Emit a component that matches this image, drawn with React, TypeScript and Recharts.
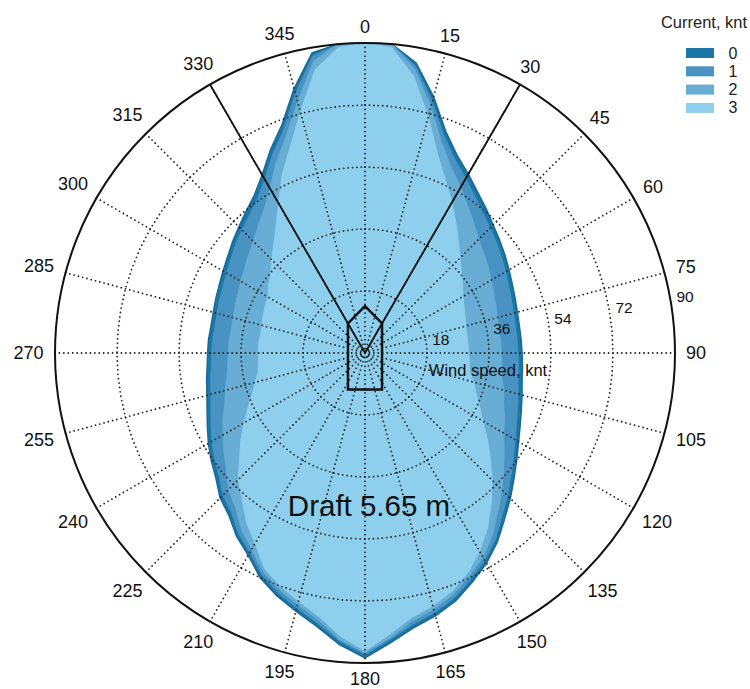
import { RadarChart, Radar, PolarAngleAxis, PolarRadiusAxis } from 'recharts'

// wind direction (deg, clockwise from bow) for every sample of the envelopes
const ANGLES = [
  0, 5, 10, 15, 20, 25, 30, 35, 40, 45, 50, 55, 60, 65, 70, 75, 80, 85,
  90, 95, 100, 105, 110, 115, 120, 125, 130, 135, 140, 145, 150, 155, 160, 165, 170, 175,
  180, 185, 190, 195, 200, 205, 210, 215, 220, 225, 230, 235, 240, 245, 250, 255, 260, 265,
  270, 275, 280, 285, 290, 295, 300, 305, 310, 315, 320, 325, 330, 335, 340, 345, 350, 355,
]

// max wind speed (knt) the vessel holds, per current speed
const CURRENT_0 = [
  90, 90, 85.5, 77, 68.5, 63.3, 60, 57, 54.7, 52.6,
  51, 49.6, 48.3, 47.2, 46.4, 45.8, 45.5, 45.5, 45.6, 45.9,
  46.3, 47.2, 48.3, 49.7, 51.5, 53.8, 56.5, 59.7, 63, 67,
  70.5, 73.5, 76.7, 79, 81, 84.5, 88.5, 85, 80.6, 77.6,
  75, 72, 67.8, 65, 61.5, 59.5, 56.5, 54.5, 52.5, 50.5,
  48.8, 47.5, 46.7, 46, 45.7, 45.6, 45.4, 45.6, 46.1, 46.7,
  47.6, 48.7, 50.2, 51.8, 53.7, 56, 59.7, 65, 70.5, 79.5,
  88.5, 90,
]
const CURRENT_1 = [
  90, 90, 84.5, 75.5, 67, 61.8, 58.5, 55.5, 53.2, 51.3,
  49.8, 48.4, 47.1, 46, 45.2, 44.6, 44.3, 44.3, 44.4, 44.7,
  45.1, 46, 47.1, 48.5, 50.3, 52.6, 55.3, 58.5, 61.8, 66,
  69.5, 72.5, 75.7, 78, 80, 83.5, 87.5, 84, 79.6, 76.6,
  74, 71, 66.8, 64, 60.3, 58.3, 55.3, 53.3, 51.3, 49.3,
  47.6, 46.3, 45.5, 44.8, 44.5, 44.4, 44.2, 44.4, 44.9, 45.5,
  46.4, 47.5, 49, 50.5, 52.2, 54.5, 58.2, 63.5, 69, 78,
  87.5, 90,
]
const CURRENT_2 = [
  90, 90, 83.5, 74, 65, 59.3, 55.5, 52, 49.2, 46.6,
  45, 43.6, 42.3, 41.2, 40.4, 39.8, 39.5, 39.5, 39.6, 39.9,
  40.3, 41.7, 42.8, 44.7, 46.5, 49.3, 52.5, 56.2, 60, 64.5,
  68.5, 71.5, 74.7, 77, 79, 83, 87, 83.5, 78.6, 75.6,
  73, 70, 65.8, 62.5, 58.5, 56, 52.5, 50, 47.5, 45.5,
  43.3, 42, 40.7, 40, 39.7, 39.6, 39.4, 39.6, 40.1, 40.7,
  41.6, 42.7, 44.2, 45.8, 48.2, 51, 55.2, 61, 67, 75.5,
  86, 90,
]
const CURRENT_3 = [
  90, 89, 81.5, 71, 61.5, 55.3, 50.5, 46, 42.2, 39.1,
  36.5, 34.6, 32.8, 31.7, 30.9, 30.3, 30, 30, 30.1, 30.4,
  30.8, 32.7, 34.3, 36.7, 39.5, 43.3, 47.5, 52.2, 57, 62,
  66.5, 70.5, 73.7, 76, 78, 82, 86.5, 82.5, 77.6, 74.6,
  72, 69, 63.8, 60, 55.5, 52, 47.5, 44, 40.5, 37.5,
  34.8, 33, 31.5, 31, 31, 31, 30.8, 31, 31.5, 32,
  32.5, 34.2, 35.7, 38.3, 41.2, 45, 50.2, 57, 63.5, 72.5,
  83.5, 89,
]

const CURRENT_LEVELS = ['0', '1', '2', '3']
const CURRENT_SERIES = [CURRENT_0, CURRENT_1, CURRENT_2, CURRENT_3]
const CURRENT_COLORS = ['#1b78a6', '#4893c2', '#68add4', '#8dcfec']

const ANGLE_TICKS = [0, 15, 30, 45, 60, 75, 90, 105, 120, 135, 150, 165, 180, 195, 210, 225, 240, 255, 270, 285, 300, 315, 330, 345]
const RADIUS_TICKS = [0, 18, 36, 54, 72, 90]
const RADIUS_MAX = 90

// sector limits drawn from the centre out to the rim
const SECTOR_LINES = [30, 330]
// vessel outline: [direction deg, radius knt]
const SHIP_OUTLINE: [number, number][] = [[0, 13.6], [30, 9.9], [155, 11.7], [205, 11.7], [330, 9.9]]

const CX = 365
const CY = 353
const OUTER_R = 310
const RADIUS_AXIS_ANGLE = 10
const DOT_GAP = OUTER_R / 70
const FONT = '"Liberation Sans", Arial, Helvetica, sans-serif'

const RINGS = RADIUS_TICKS.filter(t => t > 0 && t < RADIUS_MAX)

const data = ANGLES.map((angle, i) => {
  const row: Record<string, number | null> = { angle }
  CURRENT_LEVELS.forEach((lvl, k) => { row['c' + lvl] = CURRENT_SERIES[k][i] })
  RINGS.forEach(t => { row['ring' + t] = t })
  row.spokes = ANGLE_TICKS.includes(angle) ? RADIUS_MAX : 0
  row.sector = SECTOR_LINES.includes(angle) ? RADIUS_MAX : 0
  const ship = SHIP_OUTLINE.find(p => p[0] === angle)
  row.ship = ship ? ship[1] : null
  return row
})

function ShipShape(props: any) {
  const pts = (props.points || []).filter((p: any) => p.payload && p.payload.ship != null)
  return (
    <polygon points={pts.map((p: any) => `${p.x},${p.y}`).join(' ')}
      fill="none" stroke="#111" strokeWidth={2.5} strokeLinejoin="miter" />
  )
}

function AngleTick({ payload }: any) {
  const v = Number(payload?.value)
  if (!ANGLE_TICKS.includes(v)) return null
  const label = String(v)
  const rad = (v * Math.PI) / 180
  const sx = Math.sin(rad)
  const sy = -Math.cos(rad)
  const w = label.length * 10
  const r = 320 + Math.abs(sx) * w * 0.55 + Math.abs(sy) * 6
  return (
    <text x={CX + r * sx} y={CY + r * sy} textAnchor="middle" dominantBaseline="central"
      fontSize={18} fill="#111" fontFamily={FONT}>
      {label}
    </text>
  )
}

function RadiusTick({ x, y, payload }: any) {
  if (!payload?.value) return null
  const a = (RADIUS_AXIS_ANGLE * Math.PI) / 180
  return (
    <text x={x + 15 * Math.cos(a)} y={y - 15 * Math.sin(a)} textAnchor="middle" dominantBaseline="central"
      fontSize={15.5} fill="#111" fontFamily={FONT}>
      {payload.value}
    </text>
  )
}

const dotted = {
  fill: 'none',
  stroke: '#222',
  strokeWidth: 1.8,
  strokeLinecap: 'round' as const,
  strokeDasharray: `0 ${DOT_GAP}`,
}

export default function App() {
  return (
    <div style={{ position: 'absolute', left: 0, top: 0, width: 750, height: 689, fontFamily: FONT, background: '#fff' }}>
      <RadarChart width={750} height={689} data={data} cx={CX} cy={CY} outerRadius={OUTER_R} startAngle={90} endAngle={-270}>
        {CURRENT_LEVELS.map((lvl, k) => (
          <Radar key={lvl} dataKey={'c' + lvl} fill={CURRENT_COLORS[k]} fillOpacity={1}
            stroke={k === 0 ? '#17699a' : CURRENT_COLORS[k]} strokeWidth={k === 0 ? 1.5 : 1}
            isAnimationActive={false} dot={false} />
        ))}
        {RINGS.map(t => (
          <Radar key={t} dataKey={'ring' + t} {...dotted} isAnimationActive={false} dot={false} legendType="none" />
        ))}
        <Radar dataKey="spokes" {...dotted} isAnimationActive={false} dot={false} legendType="none" />
        <Radar dataKey="sector" fill="none" stroke="#111" strokeWidth={1.8} isAnimationActive={false} dot={false} />
        <Radar dataKey="ship" shape={ShipShape} isAnimationActive={false} dot={false} />
        <PolarAngleAxis dataKey="angle" tick={AngleTick} tickLine={false} axisLineType="circle"
          axisLine={{ stroke: '#111', strokeWidth: 2 }} />
        <PolarRadiusAxis angle={RADIUS_AXIS_ANGLE} domain={[0, RADIUS_MAX]} ticks={RADIUS_TICKS} type="number"
          tick={RadiusTick} axisLine={false} tickLine={false} />
      </RadarChart>
      <svg width={750} height={689} style={{ position: 'absolute', left: 0, top: 0, pointerEvents: 'none' }}>
        <text x={488} y={370} textAnchor="middle" dominantBaseline="central" fontSize={16.5} fill="#111" fontFamily={FONT}>
          Wind speed, knt
        </text>
        <text x={369} y={505} textAnchor="middle" dominantBaseline="central" fontSize={29.5} fill="#111" fontFamily={FONT}>
          Draft 5.65 m
        </text>
        <text x={704} y={22} textAnchor="middle" dominantBaseline="central" fontSize={16.5} fill="#222" fontFamily={FONT}>
          Current, knt
        </text>
        {CURRENT_LEVELS.map((lvl, k) => (
          <g key={lvl}>
            <rect x={686} y={48 + k * 18.3} width={28} height={10} fill={CURRENT_COLORS[k]} />
            <text x={733} y={53 + k * 18.3} textAnchor="middle" dominantBaseline="central" fontSize={16} fill="#222" fontFamily={FONT}>
              {lvl}
            </text>
          </g>
        ))}
      </svg>
    </div>
  )
}
